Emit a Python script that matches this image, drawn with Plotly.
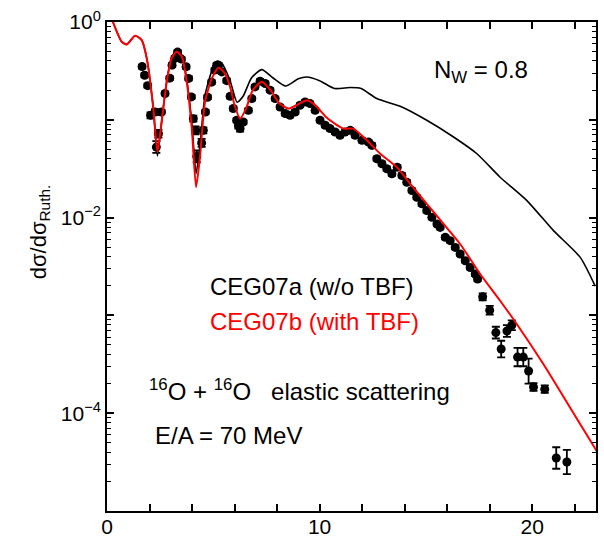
import numpy as np
import plotly.graph_objects as go

# Scattering angle (c.m., degrees) and log10 of the ratio to Rutherford

# CEG07a (without three-body force)
ceg07a_angle = [0.28, 0.69, 0.93, 1.32, 1.63, 1.87, 2.18, 2.37, 2.57, 2.81,
                3.04, 3.28, 3.52, 3.75, 3.99, 4.19, 4.38, 4.61, 4.93, 5.19,
                5.40, 5.79, 6.12, 6.40, 6.80, 7.28, 7.80, 8.40, 9.0, 9.40,
                10.0, 10.70, 11.44, 11.95, 12.69, 13.79, 15.04, 16.30, 17.40,
                18.49, 19.75, 21.00, 22.26, 22.96]
ceg07a_log = [0.0, -0.202, -0.229, -0.14, -0.185, -0.372, -0.885, -1.37, -1.02,
              -0.60, -0.36, -0.29, -0.34, -0.59, -1.03, -1.55, -1.25, -0.75,
              -0.50, -0.40, -0.42, -0.60, -0.82, -0.76, -0.57, -0.487, -0.57,
              -0.655, -0.58, -0.562, -0.60, -0.68, -0.67, -0.68, -0.783,
              -0.862, -1.005, -1.176, -1.347, -1.587, -1.826, -2.133, -2.407,
              -2.70]

# CEG07b (with three-body force)
ceg07b_angle = [0.28, 0.69, 0.93, 1.32, 1.63, 1.87, 2.18, 2.37, 2.57, 2.81,
                3.04, 3.28, 3.52, 3.75, 3.99, 4.19, 4.38, 4.61, 4.93, 5.24,
                5.55, 5.79, 6.00, 6.26, 6.55, 6.85, 7.28, 7.70, 8.10, 8.53,
                9.0, 9.40, 9.79, 10.34, 11.12, 11.59, 12.22, 12.85, 13.63,
                14.26, 15.04, 15.83, 16.61, 17.55, 18.49, 19.28, 20.53, 21.79,
                23.04]
ceg07b_log = [0.0, -0.202, -0.229, -0.14, -0.185, -0.372, -0.885, -1.33, -1.02,
              -0.612, -0.372, -0.305, -0.356, -0.612, -1.09, -1.69, -1.364,
              -0.817, -0.577, -0.469, -0.526, -0.664, -0.85, -0.988, -0.88,
              -0.70, -0.612, -0.70, -0.83, -0.885, -0.84, -0.80, -0.85, -0.98,
              -1.09, -1.09, -1.21, -1.347, -1.484, -1.654, -1.86, -2.065,
              -2.27, -2.577, -2.85, -3.09, -3.50, -3.946, -4.39]

# Measured elastic scattering data
exp_angle = [1.65, 1.77, 1.91, 2.05, 2.26, 2.32, 2.42, 2.56, 2.73, 2.95,
             3.06, 3.19, 3.32, 3.50, 3.72, 3.84, 3.97, 4.06, 4.16, 4.22,
             4.45, 4.53, 4.63, 4.73, 4.92, 5.07, 5.16, 5.24, 5.40, 5.63,
             5.79, 5.94, 6.10, 6.18, 6.26, 6.41, 6.65, 6.81, 6.96, 7.20,
             7.44, 7.67, 7.91, 8.14, 8.38, 8.61, 8.85, 9.08, 9.32, 9.55,
             9.79, 10.02, 10.26, 10.49, 10.73, 10.96, 11.20, 11.44, 11.67,
             11.99, 12.30, 12.46, 12.69, 12.93, 13.16, 13.40, 13.65, 13.87,
             14.10, 14.34, 14.57, 14.81, 15.04, 15.28, 15.52, 15.67, 15.91,
             16.14, 16.38, 16.61, 16.85, 17.08, 17.32, 17.43,
             17.67, 18.00, 18.29, 18.54, 18.81, 19.04, 19.31, 19.58, 19.83,
             20.06, 20.59, 21.13, 21.63]
exp_log = [-0.456, -0.544, -0.651, -0.954, -0.92, -1.279, -1.142, -0.92,
           -0.731, -0.574, -0.441, -0.372, -0.308, -0.379, -0.458, -0.577,
           -0.766, -0.988, -1.108, -1.374, -1.236, -1.108, -0.92, -0.769,
           -0.615, -0.492, -0.441, -0.441, -0.51, -0.60, -0.76, -0.885,
           -1.005, -1.06, -1.09, -1.023, -0.903, -0.783, -0.664, -0.605,
           -0.629, -0.697, -0.783, -0.869, -0.936, -0.954, -0.92, -0.851,
           -0.817, -0.834, -0.903, -1.005, -1.056, -1.09, -1.125, -1.159,
           -1.125, -1.108, -1.159, -1.21, -1.228, -1.262, -1.398, -1.449,
           -1.50, -1.552, -1.484, -1.569, -1.638, -1.723, -1.792, -1.859,
           -1.928, -1.997, -2.065, -2.10, -2.202, -2.236, -2.305, -2.372,
           -2.441, -2.51, -2.577, -2.629,
           -2.81, -2.947, -3.176, -3.344, -3.159, -3.101, -3.426, -3.426,
           -3.569, -3.733, -3.754, -4.458, -4.499]
# half-width of each error bar, in decades
exp_dlog = [0.02, 0.02, 0.02, 0.03, 0.03, 0.06, 0.04, 0.02, 0.02, 0.02,
            0.02, 0.02, 0.02, 0.02, 0.02, 0.02, 0.02, 0.03, 0.04, 0.06,
            0.04, 0.03, 0.02, 0.02, 0.02, 0.02, 0.02, 0.02, 0.02, 0.02,
            0.02, 0.02, 0.02, 0.03, 0.03, 0.02, 0.02, 0.02, 0.02, 0.02,
            0.02, 0.02, 0.02, 0.02, 0.02, 0.02, 0.02, 0.02, 0.02, 0.02,
            0.02, 0.02, 0.02, 0.02, 0.02, 0.02, 0.02, 0.02, 0.02, 0.02,
            0.02, 0.02, 0.02, 0.02, 0.02, 0.02, 0.02, 0.02, 0.02, 0.02,
            0.02, 0.02, 0.02, 0.02, 0.02, 0.02, 0.02, 0.02, 0.02, 0.02,
            0.02, 0.02, 0.02, 0.02,
            0.035, 0.045, 0.06, 0.085, 0.06, 0.05, 0.094, 0.094, 0.128,
            0.039, 0.038, 0.11, 0.123]

# axis ticks: labelled decades, unlabelled decades, and minor marks
ytick_vals = [1e0, 1e-2, 1e-4]
ytick_text = ["10<sup>0</sup>", "10<sup>\u22122</sup>", "10<sup>\u22124</sup>"]
ytick_plain = [1e-1, 1e-3, 1e-5]
xtick_vals = [0, 10, 20]
xtick_text = ["0", "10", "20"]

FONT = "Liberation Sans, Arial, Helvetica, sans-serif"

a_y = np.power(10.0, ceg07a_log)
b_y = np.power(10.0, ceg07b_log)
d_y = np.power(10.0, exp_log)
d_dl = np.array(exp_dlog)
err_plus = d_y * (np.power(10.0, d_dl) - 1.0)
err_minus = d_y * (1.0 - np.power(10.0, -d_dl))

fig = go.Figure()

fig.add_trace(go.Scatter(
    x=ceg07a_angle, y=a_y, mode="lines",
    line=dict(color="black", width=1.6, shape="spline", smoothing=0.6),
    name="CEG07a", showlegend=False))

fig.add_trace(go.Scatter(
    x=exp_angle, y=d_y, mode="markers",
    marker=dict(color="black", size=9, symbol="circle"),
    error_y=dict(type="data", array=err_plus, arrayminus=err_minus,
                 symmetric=False, color="black", thickness=1.8, width=4),
    name="data", showlegend=False))

fig.add_trace(go.Scatter(
    x=ceg07b_angle, y=b_y, mode="lines",
    line=dict(color="#ff0000", width=2, shape="spline", smoothing=0.6),
    name="CEG07b", showlegend=False))

# minor tick positions on the log axis
minor_y = [m * 10.0 ** k for k in range(-5, 0) for m in range(2, 10)]

fig.update_xaxes(
    range=[0, 23], tickmode="array", tickvals=xtick_vals, ticktext=xtick_text,
    ticks="inside", ticklen=7, tickwidth=1.5, tickcolor="black",
    ticklabelstandoff=-4,
    minor=dict(tickmode="linear", tick0=0, dtick=2, ticks="inside",
               ticklen=4, tickwidth=1.5, tickcolor="black"),
    showline=True, linecolor="black", linewidth=1.8, mirror="allticks",
    showgrid=False, zeroline=False, automargin=False,
    tickfont=dict(family=FONT, size=21, color="black"))

fig.update_layout(
    yaxis=dict(
        type="log", range=[-5, 0], tickmode="array", tickvals=ytick_vals,
        ticktext=ytick_text,
        ticks="inside", ticklen=7, tickwidth=1.5, tickcolor="black",
        minor=dict(tickmode="array", tickvals=minor_y, ticks="inside",
                   ticklen=4, tickwidth=1.2, tickcolor="black"),
        showline=True, linecolor="black", linewidth=1.8, mirror="allticks",
        showgrid=False, zeroline=False, automargin=False,
        tickfont=dict(family=FONT, size=21, color="black")),
    # unlabelled decade ticks on both vertical sides
    yaxis2=dict(
        type="log", range=[-5, 0], overlaying="y", side="left",
        tickmode="array", tickvals=ytick_plain, showticklabels=False,
        ticks="inside", ticklen=7, tickwidth=1.5, tickcolor="black",
        showline=False, mirror="allticks", showgrid=False, zeroline=False,
        automargin=False),
)

fig.add_trace(go.Scatter(x=[None], y=[None], yaxis="y2", mode="lines",
                         showlegend=False, hoverinfo="skip"))

def label(text, x, y, color="black", size=24, **kw):
    fig.add_annotation(text=text, x=x, y=y, xref="paper", yref="paper",
                       showarrow=False, xanchor="left", yanchor="middle",
                       font=dict(family=FONT, size=size, color=color), **kw)

label("N<sub>W</sub> = 0.8", 0.664, 0.898)
label("CEG07a (w/o TBF)", 0.2065, 0.459)
label("CEG07b (with TBF)", 0.2065, 0.388, color="#ff0000")
label("<sup>16</sup>O + <sup>16</sup>O&nbsp;&nbsp; elastic scattering",
      0.0818, 0.2466)
label("E/A = 70 MeV", 0.094, 0.155)

fig.add_annotation(text="d\u03c3/d\u03c3<sub>Ruth.</sub>", x=-0.137, y=0.57,
                   xref="paper", yref="paper", showarrow=False,
                   textangle=-90, xanchor="center", yanchor="middle",
                   font=dict(family=FONT, size=22, color="black"))

fig.update_layout(
    width=604, height=539,
    margin=dict(l=107, r=8, t=22, b=28),
    paper_bgcolor="white", plot_bgcolor="white",
    showlegend=False)

fig.write_html("out.html")
